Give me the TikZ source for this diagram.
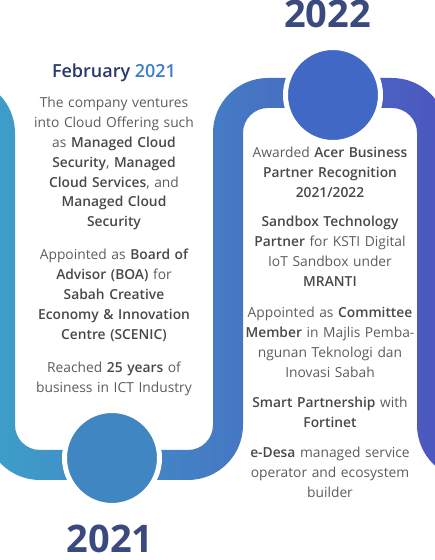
\documentclass[tikz,border=0pt]{standalone}
\usepackage{fontspec}
\IfFontExistsTF{Open Sans Semibold}
    {\setmainfont{Open Sans}[BoldFont={Open Sans Semibold}]}
    {\IfFontExistsTF{OpenSans-Semibold.ttf}
        {\setmainfont{Open Sans}[BoldFont={OpenSans-Semibold.ttf}]}
        {\setmainfont{Open Sans}}}
\newfontfamily\yearfont{Open Sans}[UprightFont={* Bold}]
\usepackage{tikz}

\definecolor{bandleft}{RGB}{62,157,200}
\definecolor{bandright}{RGB}{76,88,192}
\definecolor{dotlow}{RGB}{64,134,194}
\definecolor{dotup}{RGB}{65,104,196}
\definecolor{yearblue}{RGB}{58,74,126}
\definecolor{febnavy}{RGB}{40,56,110}
\definecolor{febblue}{RGB}{62,126,198}
\definecolor{textgray}{RGB}{92,92,92}
\definecolor{boldgray}{RGB}{72,72,72}

\newcommand{\bt}[1]{\textbf{\textcolor{boldgray}{#1}}}

\begin{document}
\begin{tikzpicture}[x=1pt, y=1pt,
    para/.style={text width=190pt, align=center, anchor=base, inner sep=0pt,
        font=\fontsize{13.8}{19.8}\selectfont, text=textgray},
    year/.style={anchor=base, inner sep=0pt,
        font=\fontsize{38}{40}\selectfont\yearfont, text=yearblue},
    dot/.style={circle, inner sep=0pt, minimum size=95pt, draw=white, line width=5pt}]
    \useasboundingbox (0,0) rectangle (435,560);

    % the winding band
    \begin{scope}
        \clip (-100,482) -- (-40,482) arc[start angle=90, end angle=0, radius=55pt]
            -- (15,135) arc[start angle=180, end angle=270, radius=25pt]
            -- (188,110) arc[start angle=270, end angle=360, radius=25pt]
            -- (213,427) arc[start angle=180, end angle=90, radius=55pt]
            -- (392,482) arc[start angle=90, end angle=0, radius=55pt]
            -- (447,135) arc[start angle=180, end angle=270, radius=25pt]
            -- (540,110) -- (540,80) -- (472,80) arc[start angle=270, end angle=180, radius=55pt]
            -- (417,427) arc[start angle=0, end angle=90, radius=25pt]
            -- (268,452) arc[start angle=90, end angle=180, radius=25pt]
            -- (243,135) arc[start angle=0, end angle=-90, radius=55pt]
            -- (40,80) arc[start angle=270, end angle=180, radius=55pt]
            -- (-15,427) arc[start angle=0, end angle=90, radius=25pt]
            -- (-100,452) -- cycle;
        \shade[left color=bandleft, right color=bandright] (0,0) rectangle (435,560);
    \end{scope}

    \node[dot, fill=dotlow] (dot2021) at (112,102) {};
    \node[dot, fill=dotup] (dot2022) at (333,465) {};

    \node[year] (y2022) at (327.5,532) {2022};
    \node[year] (y2021) at (110,8) {2021};

    % 2021 column
    \node[anchor=base, inner sep=0pt, font=\fontsize{18}{20}\selectfont\bfseries] (feb)
        at (114,482) {\textcolor{febnavy}{February} \textcolor{febblue}{2021}};
    \node[para] (cloud) at (114,452) {The company ventures\\ into Cloud Offering such\\
        as \bt{Managed Cloud}\\ \bt{Security}, \bt{Managed}\\ \bt{Cloud Services}, and\\
        \bt{Managed Cloud}\\ \bt{Security}};
    \node[para] (boa) at (114,300) {Appointed as \bt{Board of}\\ \bt{Advisor (BOA)} for\\
        \bt{Sabah Creative}\\ \bt{Economy \& Innovation}\\ \bt{Centre (SCENIC)}};
    \node[para] (years) at (114,187) {Reached \bt{25 years} of\\ business in ICT Industry};

    % 2022 column
    \node[para] (acer) at (330,402) {Awarded \bt{Acer Business}\\ \bt{Partner Recognition}\\
        \bt{2021/2022}};
    \node[para] (ksti) at (330,333) {\bt{Sandbox Technology}\\ \bt{Partner} for KSTI Digital\\
        IoT Sandbox under\\ \bt{MRANTI}};
    \node[para] (majlis) at (330,242) {Appointed as \bt{Committee}\\ \bt{Member} in Majlis Pemba-\\
        ngunan Teknologi dan\\ Inovasi Sabah};
    \node[para] (fortinet) at (330,152) {\bt{Smart Partnership} with\\ \bt{Fortinet}};
    \node[para] (edesa) at (330,102) {\bt{e-Desa} managed service\\ operator and ecosystem\\
        builder};
\end{tikzpicture}
\end{document}
